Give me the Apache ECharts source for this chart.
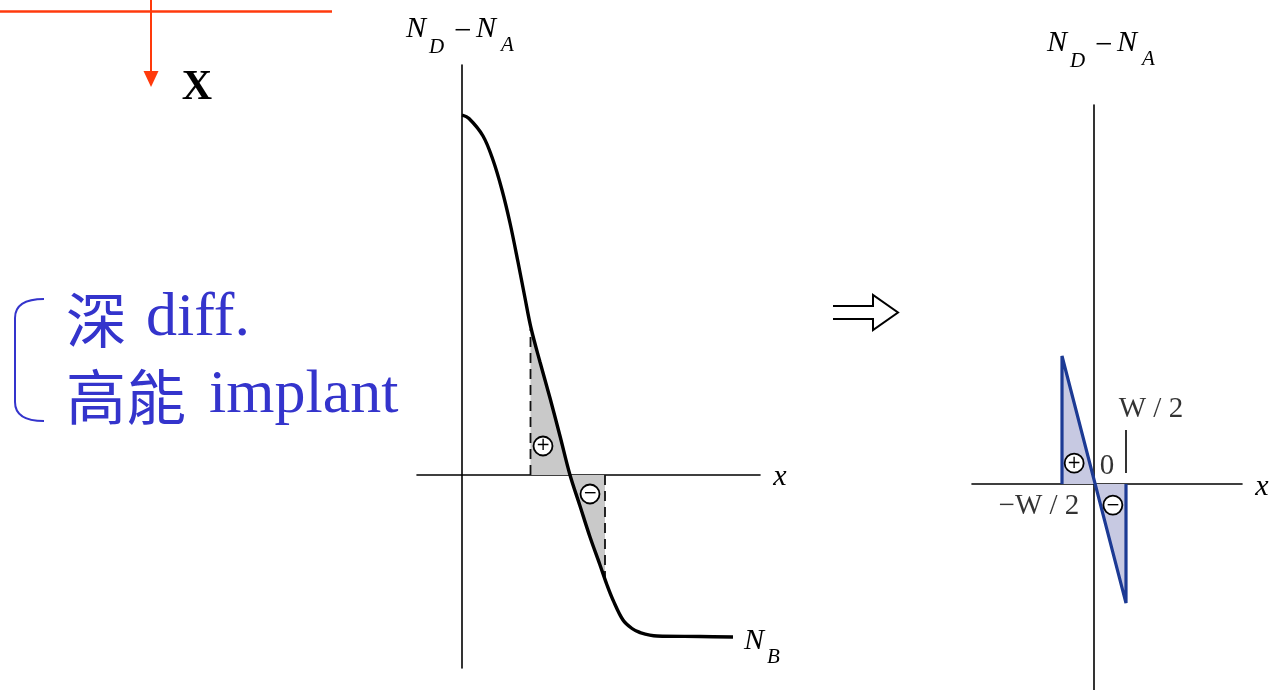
<!DOCTYPE html>
<html>
<head>
<meta charset="utf-8">
<script src="https://cdn.jsdelivr.net/npm/echarts@6/dist/echarts.min.js"></script>
<style>
  html, body { margin: 0; padding: 0; background: #ffffff; }
  #chart { width: 1272px; height: 690px; }
</style>
</head>
<body>
<div id="chart"></div>
<script>
// Net doping N_D − N_A versus depth x (arbitrary units), deep diffused / high-energy implanted well
const profileX = [0, 0.14, 0.42, 0.62, 0.8, 0.96, 1.12, 1.26, 1.38, 1.56, 1.76, 1.96, 2.16, 2.36, 2.56, 2.76, 2.9, 3.02, 3.22, 3.4, 3.56, 3.9, 4.76, 5.42];
const profileY = [7.2, 7.13, 6.78, 6.3, 5.7, 5.04, 4.26, 3.54, 2.94, 2.26, 1.54, 0.78, 0, -0.62, -1.24, -1.8, -2.2, -2.5, -2.9, -3.07, -3.15, -3.22, -3.23, -3.24];

// Space-charge region between the two depletion edges
const edgeX = [1.37, 2.86];
const edgeY = [2.92, -2.06];
const chargeX = [1.37, 1.56, 1.76, 1.96, 2.16, 2.36, 2.56, 2.76, 2.86];
const chargeY = [2.92, 2.26, 1.54, 0.78, 0, -0.62, -1.24, -1.8, -2.06];
const chargeSignX = [1.62, 2.56];
const chargeSignY = [0.58, -0.38];
const chargeSigns = ['+', '−'];

// Linearly graded junction approximation, x in units of W/2
const gradedX = [-1, -1, 1, 1];
const gradedY = [0, 4, -3.72, 0];
const gradedSignX = [-0.62, 0.59];
const gradedSignY = [0.65, -0.66];
const markerY = [0.34, 1.69];
const tickText = ['W / 2', '0', '−W / 2'];
const tickTextX = [1.78, 0.41, -1.72];
const tickTextY = [2.34, 0.56, -0.69];

const zip = (xs, ys) => xs.map((x, i) => [x, ys[i]]);

const SERIF = '"Liberation Serif", "Times New Roman", serif';
const CJK = '"Noto Sans CJK TC", "Noto Sans CJK SC", sans-serif';
const BLUE_TEXT = '#3434cc';
const RED = '#ff3a0c';

function hiddenAxis(gridIndex, min, max) {
  return {
    type: 'value', gridIndex, min, max,
    axisLine: { show: true, onZero: true, lineStyle: { color: '#000', width: 1.6 } },
    axisTick: { show: false }, axisLabel: { show: false }, splitLine: { show: false }
  };
}

// N_D − N_A heading made of main glyphs and subscripts
function dopingTitle(x0, y0) {
  const big = 'italic 30px ' + SERIF;
  const sub = 'italic 21px ' + SERIF;
  const t = (x, y, text, font) => ({ type: 'text', silent: true,
    style: { x, y, text, font, fill: '#000', textAlign: 'left', verticalAlign: 'middle' } });
  return [
    t(x0, y0, 'N', big),
    t(x0 + 23, y0 + 18, 'D', sub),
    t(x0 + 48, y0 + 3, '−', '31px ' + SERIF),
    t(x0 + 70, y0, 'N', big),
    t(x0 + 95, y0 + 16, 'A', sub)
  ];
}

function signSeries(xAxisIndex, xs, ys) {
  return {
    type: 'scatter', xAxisIndex, yAxisIndex: xAxisIndex, silent: true, z: 5,
    data: zip(xs, ys).map((p, i) => ({ value: p, name: chargeSigns[i] })),
    symbol: 'circle', symbolSize: 19,
    itemStyle: { color: '#fff', borderColor: '#000', borderWidth: 1.8, opacity: 1 },
    label: { show: true, position: 'inside', formatter: p => p.name,
      color: '#000', fontSize: 17, fontFamily: '"DejaVu Sans", sans-serif' }
  };
}

const chart = echarts.init(document.getElementById('chart'), null, { renderer: 'canvas' });

const option = {
  backgroundColor: '#ffffff',
  animation: false,
  grid: [
    { left: 417, top: 65, width: 343, height: 603, outerBoundsMode: 'none' },
    { left: 972, top: 105, width: 270, height: 585, outerBoundsMode: 'none' }
  ],
  xAxis: [hiddenAxis(0, -0.9, 5.96), hiddenAxis(1, -3.8125, 4.625)],
  yAxis: [hiddenAxis(0, -3.86, 8.2), hiddenAxis(1, -6.4375, 11.84375)],
  series: [
    {
      type: 'line', xAxisIndex: 0, yAxisIndex: 0, silent: true, z: 1,
      data: zip(chargeX, chargeY), smooth: 0.3, symbol: 'none',
      lineStyle: { width: 0 }, areaStyle: { color: '#c9c9c9', opacity: 1, origin: 0 }
    },
    ...edgeX.map((x, i) => ({
      type: 'line', xAxisIndex: 0, yAxisIndex: 0, silent: true, z: 2,
      data: [[x, 0], [x, edgeY[i]]], symbol: 'none',
      lineStyle: { color: '#111', width: 1.8, type: [10, 6] }
    })),
    {
      type: 'line', xAxisIndex: 0, yAxisIndex: 0, silent: true, z: 3,
      data: zip(profileX, profileY), smooth: 0.35, symbol: 'none',
      lineStyle: { color: '#000', width: 3.4 }
    },
    signSeries(0, chargeSignX, chargeSignY),
    {
      type: 'line', xAxisIndex: 1, yAxisIndex: 1, silent: true, z: 3,
      data: zip(gradedX, gradedY), symbol: 'none',
      lineStyle: { color: '#1c3a94', width: 3.2, join: 'bevel' },
      areaStyle: { color: '#c7c9e2', opacity: 1, origin: 0 }
    },
    {
      type: 'line', xAxisIndex: 1, yAxisIndex: 1, silent: true, z: 3,
      data: markerY.map(y => [1, y]), symbol: 'none',
      lineStyle: { color: '#000', width: 1.6 }
    },
    signSeries(1, gradedSignX, gradedSignY),
    {
      type: 'scatter', xAxisIndex: 1, yAxisIndex: 1, silent: true, z: 6,
      data: zip(tickTextX, tickTextY).map((p, i) => ({ value: p, name: tickText[i] })),
      symbolSize: 1, itemStyle: { color: 'rgba(0,0,0,0)' },
      label: { show: true, position: 'inside', formatter: p => p.name,
        color: '#000', fontSize: 29, fontFamily: SERIF, textBorderWidth: 0 }
    }
  ],
  graphic: [
    // surface sketch: wafer surface and depth direction
    { type: 'line', silent: true, shape: { x1: 0, y1: 11.5, x2: 332, y2: 11.5 },
      style: { stroke: RED, lineWidth: 2.6 } },
    { type: 'line', silent: true, shape: { x1: 151, y1: 0, x2: 151, y2: 73 },
      style: { stroke: RED, lineWidth: 2 } },
    { type: 'polygon', silent: true, shape: { points: [[143.5, 71], [158.5, 71], [151, 87]] },
      style: { fill: RED } },
    { type: 'text', silent: true,
      style: { x: 197, y: 88, text: 'X', font: 'bold 42px ' + SERIF, fill: '#000',
        textAlign: 'center', verticalAlign: 'middle' } },

    // grouping bracket and process notes
    { type: 'bezierCurve', silent: true,
      shape: { x1: 44, y1: 299, cpx1: 15, cpy1: 299, x2: 15, y2: 318 },
      style: { stroke: BLUE_TEXT, lineWidth: 2, fill: null } },
    { type: 'line', silent: true, shape: { x1: 15, y1: 318, x2: 15, y2: 402 },
      style: { stroke: BLUE_TEXT, lineWidth: 2 } },
    { type: 'bezierCurve', silent: true,
      shape: { x1: 15, y1: 402, cpx1: 15, cpy1: 421, x2: 44, y2: 421 },
      style: { stroke: BLUE_TEXT, lineWidth: 2, fill: null } },
    { type: 'text', silent: true,
      style: { x: 66, y: 320, text: '深', font: '60px ' + CJK, fill: BLUE_TEXT,
        textAlign: 'left', verticalAlign: 'middle' } },
    { type: 'text', silent: true,
      style: { x: 146, y: 319, text: 'diff.', font: '62px ' + SERIF, fill: BLUE_TEXT,
        textAlign: 'left', verticalAlign: 'middle' } },
    { type: 'text', silent: true,
      style: { x: 66, y: 397, text: '高能', font: '60px ' + CJK, fill: BLUE_TEXT,
        textAlign: 'left', verticalAlign: 'middle' } },
    { type: 'text', silent: true,
      style: { x: 209, y: 396, text: 'implant', font: '62px ' + SERIF, fill: BLUE_TEXT,
        textAlign: 'left', verticalAlign: 'middle' } },

    // axis headings
    ...dopingTitle(406, 29),
    ...dopingTitle(1047, 43),
    { type: 'text', silent: true,
      style: { x: 780, y: 477, text: 'x', font: 'italic 30px ' + SERIF, fill: '#000',
        textAlign: 'center', verticalAlign: 'middle' } },
    { type: 'text', silent: true,
      style: { x: 1262, y: 487, text: 'x', font: 'italic 30px ' + SERIF, fill: '#000',
        textAlign: 'center', verticalAlign: 'middle' } },
    { type: 'text', silent: true,
      style: { x: 744, y: 641, text: 'N', font: 'italic 30px ' + SERIF, fill: '#000',
        textAlign: 'left', verticalAlign: 'middle' } },
    { type: 'text', silent: true,
      style: { x: 767, y: 657, text: 'B', font: 'italic 21px ' + SERIF, fill: '#000',
        textAlign: 'left', verticalAlign: 'middle' } },

    // "becomes" arrow
    { type: 'polyline', silent: true,
      shape: { points: [[833, 306], [873, 306], [873, 295], [898, 312.5], [873, 330], [873, 319], [833, 319]] },
      style: { stroke: '#000', lineWidth: 2, fill: null, lineJoin: 'miter' } }
  ]
};

chart.setOption(option);
</script>
</body>
</html>
